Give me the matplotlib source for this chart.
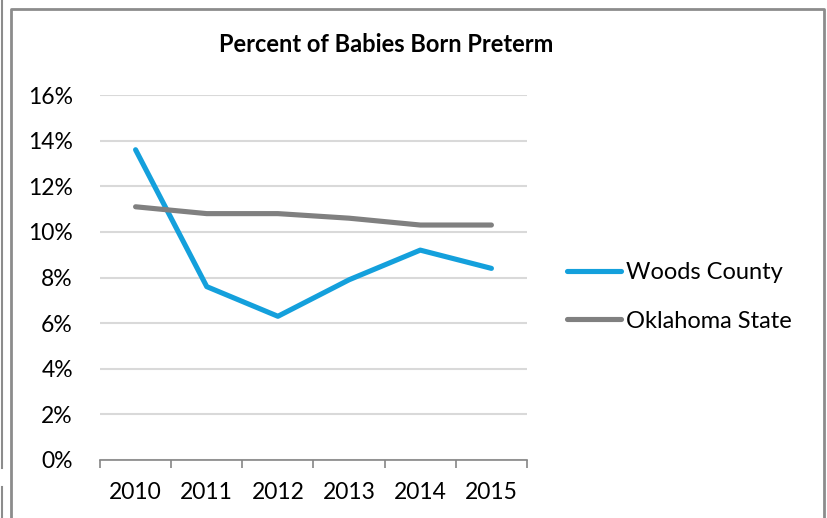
import matplotlib
matplotlib.use("Agg")
import matplotlib.pyplot as plt
from matplotlib.lines import Line2D
from matplotlib.ticker import PercentFormatter

years = ["2010", "2011", "2012", "2013", "2014", "2015"]
woods = [13.6, 7.6, 6.3, 7.9, 9.2, 8.4]
oklahoma = [11.1, 10.8, 10.8, 10.6, 10.3, 10.3]

plt.rcParams['font.family'] = ['Lato', 'DejaVu Sans']

W, H = 827, 518
fig = plt.figure(figsize=(W / 100, H / 100), dpi=100)
ax = fig.add_axes([100 / W, 1 - 460 / H, 427 / W, 365 / H])

x = list(range(len(years)))
ax.plot(x, woods, color='#14a0dc', lw=3.7, solid_capstyle='round', label='Woods County')
ax.plot(x, oklahoma, color='#808080', lw=3.7, solid_capstyle='round', label='Oklahoma State')

ax.set_ylim(0, 16)
ax.set_yticks(range(0, 17, 2))
ax.yaxis.set_major_formatter(PercentFormatter(decimals=0))
ax.set_xlim(-0.5, len(years) - 0.5)
ax.set_xticks(x)
ax.set_xticklabels(years)
ax.set_xticks([i - 0.5 for i in range(len(years) + 1)], minor=True)
ax.tick_params(axis='x', which='major', length=0, pad=16, labelsize=16.5)
ax.tick_params(axis='x', which='minor', length=6, color='#868686', width=1.2, direction='out')
ax.tick_params(axis='y', length=0, pad=19.5, labelsize=16.5)

ax.grid(axis='y', color='#d9d9d9', lw=1.5)
ax.set_axisbelow(True)
for s in ['top', 'right', 'left']:
    ax.spines[s].set_visible(False)
ax.spines['bottom'].set_color('#868686')
ax.spines['bottom'].set_linewidth(1.2)

fig.text(386 / W, 1 - 45 / H, "Percent of Babies Born Preterm", ha='center', va='center',
         fontsize=17, fontweight='bold')

ax.legend(loc='center left', bbox_to_anchor=(567 / W, 1 - 297 / H), bbox_transform=fig.transFigure,
          frameon=False, fontsize=17, handlelength=2.3, handletextpad=0.2, labelspacing=1.15,
          borderpad=0, borderaxespad=0)

# outer chart border
fig.add_artist(Line2D([11 / W, 11 / W, 824 / W, 824 / W], [0, 1 - 9 / H, 1 - 9 / H, 0],
                      transform=fig.transFigure, color='#8c8c8c', lw=2))
fig.add_artist(Line2D([1.5 / W, 1.5 / W], [1, 1 - 468 / H], transform=fig.transFigure, color='#8c8c8c', lw=1.5))
fig.add_artist(Line2D([1.5 / W, 1.5 / W], [1 - 487 / H, 0], transform=fig.transFigure, color='#8c8c8c', lw=1.5))

fig.savefig("out.png", dpi=100)
